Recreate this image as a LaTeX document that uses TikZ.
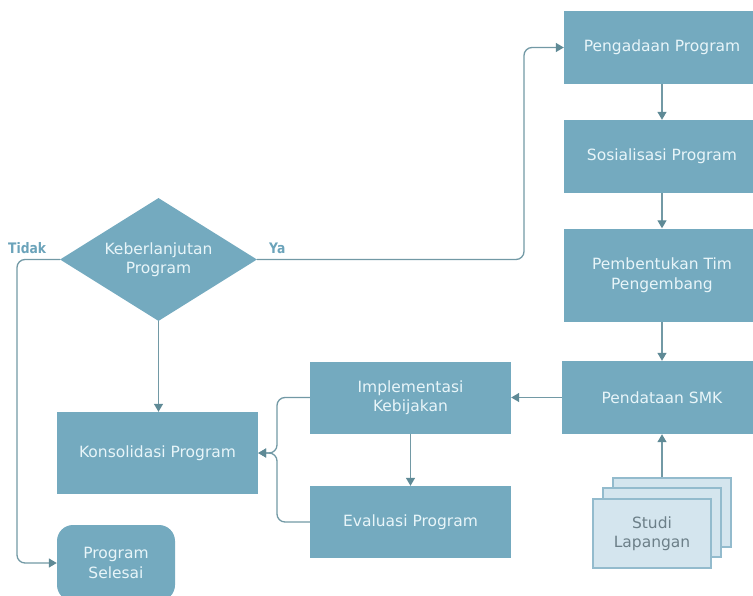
\documentclass[tikz,border=0pt]{standalone}
\usepackage{fontspec}
\setmainfont{DejaVu Sans}
\newfontfamily\labfont[FakeStretch=0.85]{DejaVu Sans}
\usetikzlibrary{arrows.meta,shapes.geometric}
\definecolor{boxfill}{HTML}{74AABF}
\definecolor{boxtext}{HTML}{E8F5F9}
\definecolor{linec}{HTML}{7299A5}
\definecolor{tipc}{HTML}{5F8A96}
\definecolor{docfill}{HTML}{D4E5EE}
\definecolor{docline}{HTML}{93BBCD}
\definecolor{doctext}{HTML}{6C7F88}
\definecolor{labc}{HTML}{6BA3BA}
\begin{document}
\begin{tikzpicture}[x=1pt,y=-1pt,
  proc/.style n args={2}{draw=none, fill=boxfill, text=boxtext,
    font=\fontsize{15.5}{19.5}\selectfont, align=center, inner sep=0pt,
    minimum width=#1, minimum height=#2},
  decision/.style={diamond, shape aspect=1.6, draw=none, fill=boxfill, text=boxtext,
    font=\fontsize{15.5}{19.5}\selectfont, align=center, inner sep=0pt,
    minimum width=197pt, minimum height=123pt},
  doc/.style={draw=docline, line width=1.2pt, fill=docfill, text=doctext,
    font=\fontsize{15.5}{19.5}\selectfont, align=center, inner sep=0pt,
    minimum width=118pt, minimum height=69pt},
  conn/.style={draw=linec, line width=1.3pt, rounded corners=8pt,
    -{Triangle[width=9pt,length=8pt,color=tipc]}},
  lab/.style={text=labc, font=\labfont\fontsize{14.5}{16}\selectfont\bfseries, inner sep=0pt}
]
\useasboundingbox (0,0) rectangle (753,595);

% right column
\node[proc={196pt}{73pt}] (peng) at (662,47.5) {Pengadaan Program};
\node[proc={196pt}{73pt}] (sos) at (662,156.5) {Sosialisasi Program};
\node[proc={196pt}{93pt}] (pemb) at (662,275) {Pembentukan Tim\\Pengembang};
\node[proc={200pt}{73pt}] (pend) at (662,397.5) {Pendataan SMK};

% middle column
\node[proc={201pt}{72pt}] (impl) at (410.5,397.5) {Implementasi\\Kebijakan};
\node[proc={201pt}{72pt}] (eval) at (410.5,522) {Evaluasi Program};

% left column
\node[decision] (dec) at (158.5,259.5) {Keberlanjutan\\Program};
\node[proc={201pt}{82pt}] (kons) at (157.5,453) {Konsolidasi Program};
\node[proc={118pt}{76pt}, rounded corners=16pt] (sel) at (116,563) {Program\\Selesai};

% document stack
\node[doc] (studiback) at (672,512.5) {};
\node[doc] (studimid) at (662,522.5) {};
\node[doc] (studi) at (652,533.5) {Studi\\Lapangan};

% labels
\node[lab, anchor=base west] (tidak) at (8,253) {Tidak};
\node[lab, anchor=base west] (yalab) at (269,253) {Ya};

% helper coordinates
\coordinate (yaturn) at (524,47.5);
\coordinate (tdturn) at (17,563);
\coordinate (merge) at (277,453);

% connectors
\draw[conn] (peng) -- (sos);
\draw[conn] (sos) -- (pemb);
\draw[conn] (pemb) -- (pend);
\draw[conn] (pend.south |- studiback.north) -- (pend.south);
\draw[conn] (pend.west) -- (impl.east);
\draw[conn] (impl) -- (eval);
\draw[conn] (dec.south) -- (dec.south |- kons.north);
\draw[conn] (impl.west) -| (merge) -- (kons.east);
\draw[conn] (eval.west) -| (merge) -- (kons.east);
\draw[conn] (dec.east) -| (yaturn) -- (peng.west);
\draw[conn] (dec.west) -| (tdturn) -- (sel.west);
\end{tikzpicture}
\end{document}
